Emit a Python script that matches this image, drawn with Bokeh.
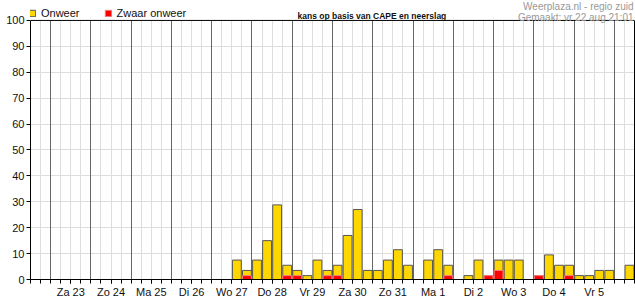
from bokeh.plotting import figure
from bokeh.models import (Range1d, FixedTicker, Grid, Label, Legend, LegendItem,
                          ColumnDataSource, LinearAxis, Span)
from bokeh.embed import file_html
from bokeh.resources import INLINE

# ---- data (6-hour slots, starting Vr 22 12:00) ----
day_labels = ["Za 23", "Zo 24", "Ma 25", "Di 26", "Wo 27", "Do 28", "Vr 29",
              "Za 30", "Zo 31", "Ma 1", "Di 2", "Wo 3", "Do 4", "Vr 5"]

onweer = [0, 0, 0, 0, 0, 0, 0, 0, 0, 0,
          0, 0, 0, 0, 0, 0, 0, 0, 0, 0,
          7.5, 3.5, 7.5, 15, 28.8, 5.5, 3.5, 1.5, 7.5, 3.5,
          5.5, 17, 27, 3.5, 3.5, 7.5, 11.5, 5.5, 0, 7.5,
          11.5, 5.5, 0, 1.5, 7.5, 1.5, 7.5, 7.5, 7.5, 0,
          1.5, 9.5, 5.5, 5.5, 1.5, 1.5, 3.5, 3.5, 0, 5.5]

zwaar = [0, 0, 0, 0, 0, 0, 0, 0, 0, 0,
         0, 0, 0, 0, 0, 0, 0, 0, 0, 0,
         0, 1.5, 0, 0, 0, 1.5, 1.5, 0, 0, 1.5,
         1.5, 0, 0, 0, 0, 0, 0, 0, 0, 0,
         0, 1.5, 0, 0, 0, 1.5, 3.5, 0, 0, 0,
         1.5, 0, 0, 1.5, 0, 0, 0, 0, 0, 0]

legend_labels = ["Onweer", "Zwaar onweer"]
title_text = "kans op basis van CAPE en neerslag"
source_text = "Weerplaza.nl - regio zuid"
made_text = "Gemaakt: vr 22 aug 21:01"

y_ticks = list(range(0, 101, 10))
y_max = 100

n = len(onweer)
first_day_slot = 2
slots_per_day = 4

FONT = "Liberation Sans"

# frame spans canvas rows 0..280; value 100 sits 20 px below the top
FRAME_H = 280
HEADER_H = 20
y_top = y_max * FRAME_H / (FRAME_H - HEADER_H)

p = figure(width=635, height=300, output_backend="svg", toolbar_location=None,
           x_range=Range1d(0, n), y_range=Range1d(0, y_top),
           min_border_left=30, min_border_right=1, min_border_top=0,
           min_border_bottom=20)
p.outline_line_color = None
p.background_fill_color = "white"
p.border_fill_color = "white"

# grids
p.xgrid.ticker = FixedTicker(ticks=list(range(0, n + 1)))
p.xgrid.grid_line_color = "#dddddd"
p.xgrid.cross_bounds = (0, y_max)
p.ygrid.ticker = FixedTicker(ticks=y_ticks)
p.ygrid.grid_line_color = "#dddddd"
day_bounds = list(range(first_day_slot, n, slots_per_day))
p.add_layout(Grid(dimension=0, ticker=FixedTicker(ticks=day_bounds),
                  cross_bounds=(0, y_max),
                  grid_line_color="#666666", grid_line_width=1))

# bars
src_on = ColumnDataSource(dict(
    x=[i + 0.5 for i in range(n) if onweer[i] > 0],
    top=[v for v in onweer if v > 0]))
src_zw = ColumnDataSource(dict(
    x=[i + 0.5 for i in range(n) if zwaar[i] > 0],
    top=[v for v in zwaar if v > 0]))

r_on = p.vbar(x="x", top="top", bottom=0, width=0.88, source=src_on,
              fill_color="#FFD700", line_color="#555555", line_width=1)
r_zw = p.vbar(x="x", top="top", bottom=0, width=0.88, source=src_zw,
              fill_color="#FF0000", line_color="#F08080", line_width=1)

# top border of the plotting area
p.add_layout(Span(location=y_max, dimension="width", line_color="black",
                  line_width=1))

legend = Legend(items=[LegendItem(label=legend_labels[0], renderers=[r_on]),
                       LegendItem(label=legend_labels[1], renderers=[r_zw])],
                orientation="horizontal", location=(-2, 260),
                glyph_width=8, glyph_height=8, label_standoff=5, spacing=24,
                padding=0, margin=0, border_line_alpha=0,
                background_fill_alpha=0, label_height=12,
                label_text_font=FONT, label_text_font_size="11px",
                label_text_color="#111111")
p.add_layout(legend)

# axes
p.yaxis.ticker = FixedTicker(ticks=y_ticks)
p.yaxis.bounds = (0, y_max)
p.yaxis.major_tick_out = 4
p.yaxis.major_tick_in = 0
p.yaxis.minor_tick_out = 0
p.yaxis.minor_tick_in = 0
p.yaxis.major_label_standoff = 2
p.yaxis.axis_line_color = "black"
p.yaxis.major_tick_line_color = "black"
p.yaxis.major_label_text_font = FONT
p.yaxis.major_label_text_font_size = "11px"
p.yaxis.major_label_text_color = "#111111"

right_axis = LinearAxis(ticker=FixedTicker(ticks=[]), bounds=(0, y_max),
                        major_tick_out=0, major_tick_in=0, minor_tick_out=0,
                        minor_tick_in=0, major_label_standoff=0,
                        axis_line_color="black")
p.add_layout(right_axis, "right")

centers = [first_day_slot + k * slots_per_day + slots_per_day / 2
           for k in range(len(day_labels))]
p.xaxis.ticker = FixedTicker(ticks=centers, minor_ticks=list(range(0, n + 1)))
p.xaxis.major_label_overrides = {c: lbl for c, lbl in zip(centers, day_labels)}
p.xaxis.major_tick_out = 4
p.xaxis.major_tick_in = 0
p.xaxis.minor_tick_out = 4
p.xaxis.minor_tick_in = 0
p.xaxis.major_label_standoff = 2
p.xaxis.axis_line_color = "black"
p.xaxis.major_tick_line_color = "black"
p.xaxis.minor_tick_line_color = "black"
p.xaxis.major_label_text_font = FONT
p.xaxis.major_label_text_font_size = "11px"
p.xaxis.major_label_text_color = "#111111"

# texts
p.add_layout(Label(x=267, y=263.5, x_units="screen", y_units="screen",
                   text=title_text, text_font=FONT, text_font_size="8.5px",
                   text_font_style="bold", text_baseline="alphabetic",
                   text_color="#111111"))
p.add_layout(Label(x=603, y=273, x_units="screen", y_units="screen",
                   text=source_text, text_font=FONT, text_font_size="10px",
                   text_align="right", text_baseline="alphabetic",
                   text_color="#999999"))
p.add_layout(Label(x=603, y=262.5, x_units="screen", y_units="screen",
                   text=made_text, text_font=FONT, text_font_size="10px",
                   text_align="right", text_baseline="alphabetic",
                   text_color="#999999"))

open("out.html", "w").write(file_html(p, INLINE))
